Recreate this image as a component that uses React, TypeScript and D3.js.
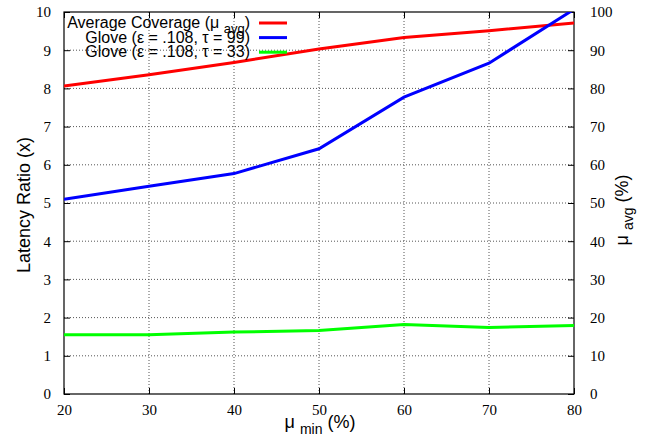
import React, { useEffect, useRef } from "react";
import * as d3 from "d3";

// DATA
const minCoverage = [20, 30, 40, 50, 60, 70, 80];
const avgCoverage = [80.6, 83.6, 86.8, 90.3, 93.3, 95.1, 97.1]; // right axis (%)
const glove99 = [5.1, 5.44, 5.77, 6.42, 7.77, 8.66, 10.07];
const glove33 = [1.55, 1.55, 1.62, 1.66, 1.82, 1.74, 1.79];
const xTicks = [20, 30, 40, 50, 60, 70, 80];
const yTicks = [0, 1, 2, 3, 4, 5, 6, 7, 8, 9, 10];
const y2Ticks = [0, 10, 20, 30, 40, 50, 60, 70, 80, 90, 100];

const serif = "'Liberation Serif', 'Times New Roman', Times, 'DejaVu Serif', serif";
const sans = "'Liberation Sans', Arial, sans-serif";

export default function App() {
  const ref = useRef<SVGSVGElement | null>(null);

  useEffect(() => {
    const svg = d3.select(ref.current);
    svg.selectAll("*").remove();

    // PLOT BOX
    const left = 64;
    const right = 574;
    const top = 12;
    const bottom = 394;

    const x = d3.scaleLinear().domain([20, 80]).range([left, right]);
    const y = d3.scaleLinear().domain([0, 10]).range([bottom, top]);
    const y2 = d3.scaleLinear().domain([0, 100]).range([bottom, top]);

    // GRID (dotted)
    const grid = svg.append("g").attr("stroke", "#555").attr("stroke-width", 1).attr("stroke-dasharray", "1,2");
    xTicks.slice(1, -1).forEach((t) => {
      grid.append("line").attr("x1", x(t)).attr("x2", x(t)).attr("y1", top).attr("y2", bottom);
    });
    yTicks.slice(1, -1).forEach((t) => {
      grid.append("line").attr("x1", left).attr("x2", right).attr("y1", y(t)).attr("y2", y(t));
    });

    // AXES (ticks inward, labels outside)
    const tickLen = 6;
    const styleAxis = (g: any) => {
      g.select(".domain").remove();
      g.attr("font-family", null).attr("font-size", null);
      g.selectAll(".tick line").attr("stroke", "#000");
      g.selectAll(".tick text")
        .attr("font-family", serif)
        .attr("font-size", 15)
        .attr("fill", "#000");
    };

    svg
      .append("g")
      .attr("transform", `translate(0,${bottom})`)
      .call(d3.axisBottom(x).tickValues(xTicks).tickSizeInner(-tickLen).tickSizeOuter(0).tickPadding(10))
      .call(styleAxis);
    svg
      .append("g")
      .attr("transform", `translate(0,${top})`)
      .call(d3.axisTop(x).tickValues(xTicks).tickSizeInner(-tickLen).tickSizeOuter(0).tickFormat(() => ""))
      .call(styleAxis);
    svg
      .append("g")
      .attr("transform", `translate(${left},0)`)
      .call(d3.axisLeft(y).tickValues(yTicks).tickSizeInner(-tickLen).tickSizeOuter(0).tickPadding(13))
      .call(styleAxis);
    svg
      .append("g")
      .attr("transform", `translate(${right},0)`)
      .call(d3.axisRight(y2).tickValues(y2Ticks).tickSizeInner(-tickLen).tickSizeOuter(0).tickPadding(16))
      .call(styleAxis);

    // FRAME
    svg
      .append("rect")
      .attr("x", left)
      .attr("y", top)
      .attr("width", right - left)
      .attr("height", bottom - top)
      .attr("fill", "none")
      .attr("stroke", "#000")
      .attr("stroke-width", 1.2);

    // CLIP
    svg
      .append("clipPath")
      .attr("id", "plotclip")
      .append("rect")
      .attr("x", left)
      .attr("y", top)
      .attr("width", right - left)
      .attr("height", bottom - top);

    // LINES
    const lineLeft = d3
      .line<number>()
      .x((_, i) => x(minCoverage[i]))
      .y((d) => y(d));
    const lineRight = d3
      .line<number>()
      .x((_, i) => x(minCoverage[i]))
      .y((d) => y2(d));

    const lines = svg.append("g").attr("clip-path", "url(#plotclip)");
    lines.append("path").datum(avgCoverage).attr("fill", "none").attr("stroke", "#ff0000").attr("stroke-width", 3).attr("d", lineRight);
    lines.append("path").datum(glove99).attr("fill", "none").attr("stroke", "#0000ff").attr("stroke-width", 3).attr("d", lineLeft);
    lines.append("path").datum(glove33).attr("fill", "none").attr("stroke", "#00ff00").attr("stroke-width", 3).attr("d", lineLeft);

    // LEGEND
    const legend = [
      { color: "#ff0000", main: "Average Coverage (\u03bc ", sub: "avg", tail: ")" },
      { color: "#0000ff", main: "Glove (\u03b5 = .108, \u03c4 = 99)", sub: "", tail: "" },
      { color: "#00ff00", main: "Glove (\u03b5 = .108, \u03c4 = 33)", sub: "", tail: "" },
    ];
    legend.forEach((d, i) => {
      const by = 28 + i * 14.6;
      const t = svg
        .append("text")
        .attr("x", 250)
        .attr("y", by)
        .attr("text-anchor", "end")
        .attr("font-family", sans)
        .attr("font-size", 16)
        .attr("fill", "#000");
      t.append("tspan").text(d.main);
      if (d.sub) {
        t.append("tspan").attr("dy", 5).attr("font-size", 13).text(d.sub);
        t.append("tspan").attr("dy", -5).text(d.tail);
      }
      svg
        .append("line")
        .attr("x1", 259)
        .attr("x2", 287)
        .attr("y1", by - 5)
        .attr("y2", by - 5)
        .attr("stroke", d.color)
        .attr("stroke-width", 3);
    });

    // AXIS LABELS
    const xl = svg
      .append("text")
      .attr("x", (left + right) / 2 + 1)
      .attr("y", 428)
      .attr("text-anchor", "middle")
      .attr("font-family", sans)
      .attr("font-size", 18)
      .attr("fill", "#000");
    xl.append("tspan").text("\u03bc ");
    xl.append("tspan").attr("dy", 6).attr("font-size", 14).text("min");
    xl.append("tspan").attr("dy", -6).text(" (%)");

    svg
      .append("text")
      .attr("transform", `translate(30,${(top + bottom) / 2 + 2}) rotate(-90)`)
      .attr("text-anchor", "middle")
      .attr("font-family", sans)
      .attr("font-size", 18)
      .attr("fill", "#000")
      .text("Latency Ratio (x)");

    const yl2 = svg
      .append("text")
      .attr("transform", `translate(628,${(top + bottom) / 2 + 7}) rotate(-90)`)
      .attr("text-anchor", "middle")
      .attr("font-family", sans)
      .attr("font-size", 18)
      .attr("fill", "#000");
    yl2.append("tspan").text("\u03bc ");
    yl2.append("tspan").attr("dy", 5).attr("font-size", 14).text("avg");
    yl2.append("tspan").attr("dy", -5).text(" (%)");
  }, []);

  return (
    <div style={{ position: "absolute", left: 0, top: 0 }}>
      <svg ref={ref} width={645} height={436} style={{ display: "block", background: "#fff" }} />
    </div>
  );
}
